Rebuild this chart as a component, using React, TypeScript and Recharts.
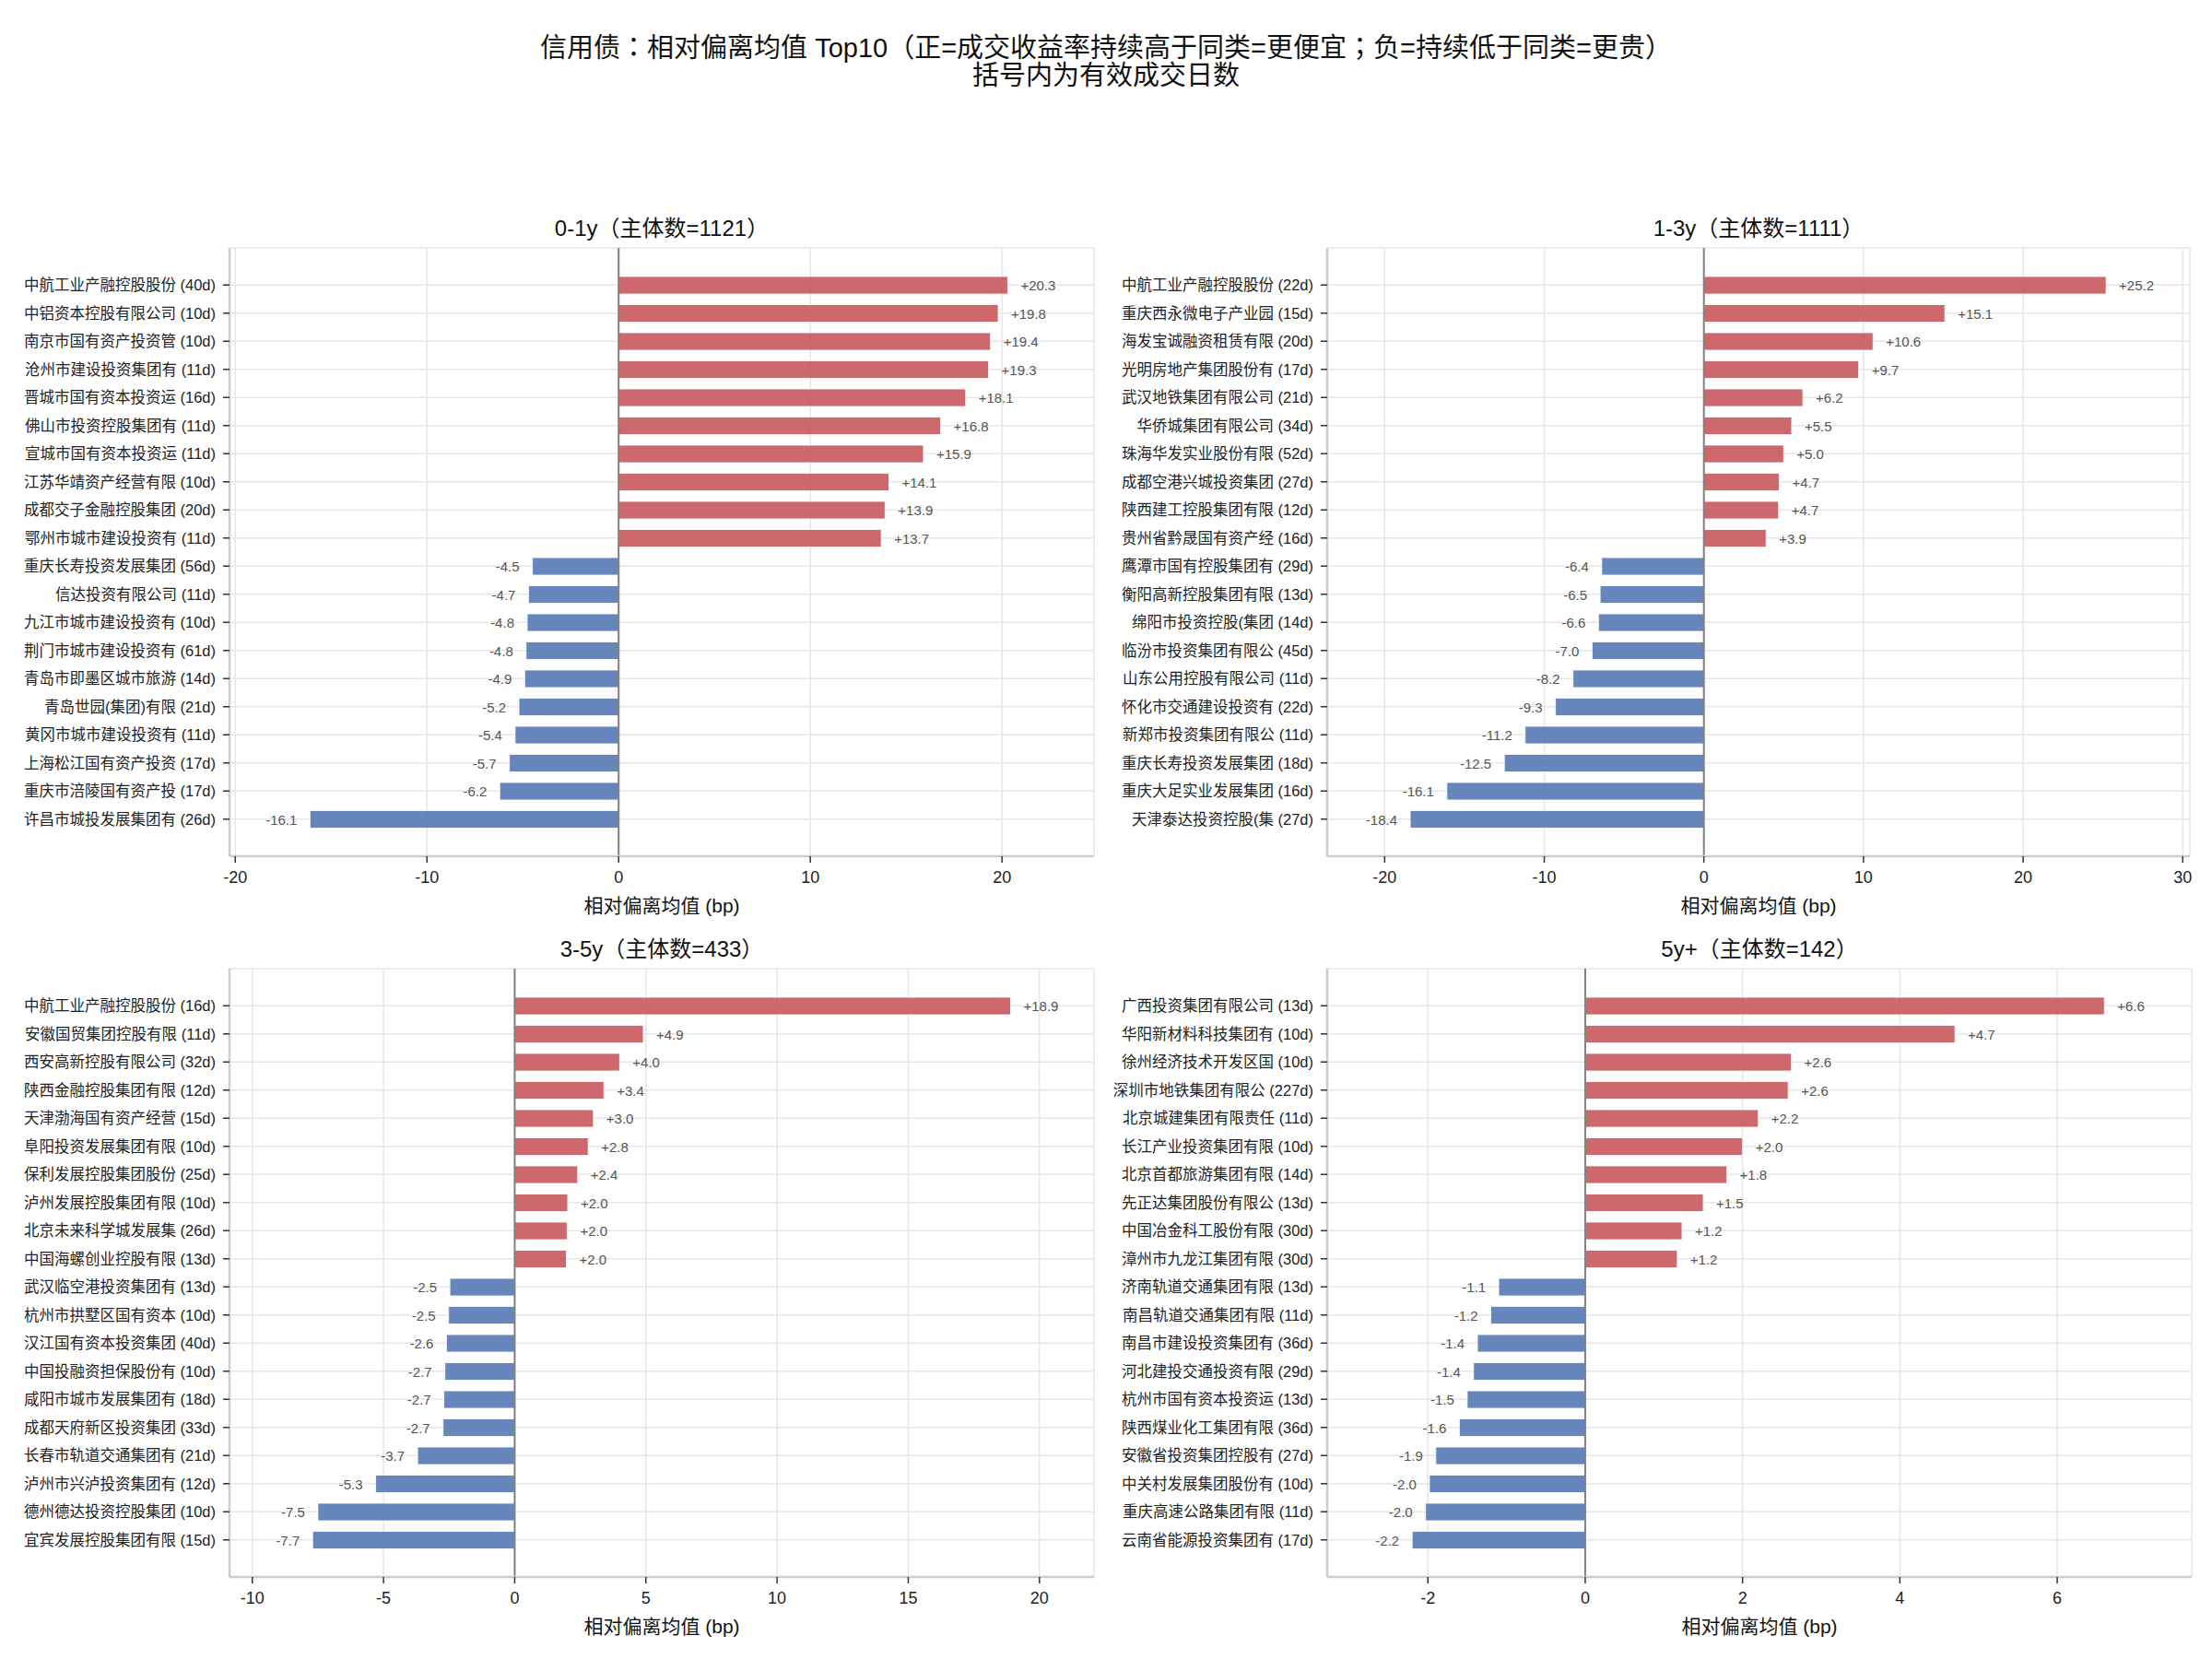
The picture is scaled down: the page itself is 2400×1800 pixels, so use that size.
import React from 'react';
import { BarChart, Bar, XAxis, YAxis, CartesianGrid, ReferenceLine, Cell, LabelList } from 'recharts';

const FONT = "'Liberation Sans', 'Noto Sans CJK SC', sans-serif";
const PUNCT_FONT = "'Noto Sans CJK TC', 'Noto Sans CJK SC', sans-serif";
const POS_COLOR = '#c44e52';
const NEG_COLOR = '#4c72b0';

const mainTitle1 = '信用债：相对偏离均值 Top10（正=成交收益率持续高于同类=更便宜；负=持续低于同类=更贵）';
const mainTitle2 = '括号内为有效成交日数';
const xLabel = '相对偏离均值 (bp)';

// 0-1y
const title01 = '0-1y（主体数=1121）';
const names01 = [
  '中航工业产融控股股份 (40d)', '中铝资本控股有限公司 (10d)', '南京市国有资产投资管 (10d)', '沧州市建设投资集团有 (11d)',
  '晋城市国有资本投资运 (16d)', '佛山市投资控股集团有 (11d)', '宣城市国有资本投资运 (11d)', '江苏华靖资产经营有限 (10d)',
  '成都交子金融控股集团 (20d)', '鄂州市城市建设投资有 (11d)', '重庆长寿投资发展集团 (56d)', '信达投资有限公司 (11d)',
  '九江市城市建设投资有 (10d)', '荆门市城市建设投资有 (61d)', '青岛市即墨区城市旅游 (14d)', '青岛世园(集团)有限 (21d)',
  '黄冈市城市建设投资有 (11d)', '上海松江国有资产投资 (17d)', '重庆市涪陵国有资产投 (17d)', '许昌市城投发展集团有 (26d)',
];
const values01 = [20.3, 19.8, 19.4, 19.3, 18.1, 16.8, 15.9, 14.1, 13.9, 13.7, -4.5, -4.7, -4.77, -4.83, -4.9, -5.2, -5.4, -5.7, -6.2, -16.1];
const domain01: [number, number] = [-20.3, 24.8];
const ticks01 = [-20, -10, 0, 10, 20];

// 1-3y
const title13 = '1-3y（主体数=1111）';
const names13 = [
  '中航工业产融控股股份 (22d)', '重庆西永微电子产业园 (15d)', '海发宝诚融资租赁有限 (20d)', '光明房地产集团股份有 (17d)',
  '武汉地铁集团有限公司 (21d)', '华侨城集团有限公司 (34d)', '珠海华发实业股份有限 (52d)', '成都空港兴城投资集团 (27d)',
  '陕西建工控股集团有限 (12d)', '贵州省黔晟国有资产经 (16d)', '鹰潭市国有控股集团有 (29d)', '衡阳高新控股集团有限 (13d)',
  '绵阳市投资控股(集团 (14d)', '临汾市投资集团有限公 (45d)', '山东公用控股有限公司 (11d)', '怀化市交通建设投资有 (22d)',
  '新郑市投资集团有限公 (11d)', '重庆长寿投资发展集团 (18d)', '重庆大足实业发展集团 (16d)', '天津泰达投资控股(集 (27d)',
];
const values13 = [25.2, 15.1, 10.6, 9.7, 6.2, 5.5, 5.0, 4.72, 4.68, 3.9, -6.4, -6.5, -6.6, -7.0, -8.2, -9.3, -11.2, -12.5, -16.1, -18.4];
const domain13: [number, number] = [-23.6, 30.45];
const ticks13 = [-20, -10, 0, 10, 20, 30];

// 3-5y
const title35 = '3-5y（主体数=433）';
const names35 = [
  '中航工业产融控股股份 (16d)', '安徽国贸集团控股有限 (11d)', '西安高新控股有限公司 (32d)', '陕西金融控股集团有限 (12d)',
  '天津渤海国有资产经营 (15d)', '阜阳投资发展集团有限 (10d)', '保利发展控股集团股份 (25d)', '泸州发展控股集团有限 (10d)',
  '北京未来科学城发展集 (26d)', '中国海螺创业控股有限 (13d)', '武汉临空港投资集团有 (13d)', '杭州市拱墅区国有资本 (10d)',
  '汉江国有资本投资集团 (40d)', '中国投融资担保股份有 (10d)', '咸阳市城市发展集团有 (18d)', '成都天府新区投资集团 (33d)',
  '长春市轨道交通集团有 (21d)', '泸州市兴泸投资集团有 (12d)', '德州德达投资控股集团 (10d)', '宜宾发展控股集团有限 (15d)',
];
const values35 = [18.9, 4.9, 4.0, 3.4, 3.0, 2.8, 2.4, 2.02, 2.0, 1.97, -2.47, -2.52, -2.6, -2.66, -2.7, -2.73, -3.7, -5.3, -7.5, -7.7];
const domain35: [number, number] = [-10.87, 22.08];
const ticks35 = [-10, -5, 0, 5, 10, 15, 20];

// 5y+
const title5p = '5y+（主体数=142）';
const names5p = [
  '广西投资集团有限公司 (13d)', '华阳新材料科技集团有 (10d)', '徐州经济技术开发区国 (10d)', '深圳市地铁集团有限公 (227d)',
  '北京城建集团有限责任 (11d)', '长江产业投资集团有限 (10d)', '北京首都旅游集团有限 (14d)', '先正达集团股份有限公 (13d)',
  '中国冶金科工股份有限 (30d)', '漳州市九龙江集团有限 (30d)', '济南轨道交通集团有限 (13d)', '南昌轨道交通集团有限 (11d)',
  '南昌市建设投资集团有 (36d)', '河北建投交通投资有限 (29d)', '杭州市国有资本投资运 (13d)', '陕西煤业化工集团有限 (36d)',
  '安徽省投资集团控股有 (27d)', '中关村发展集团股份有 (10d)', '重庆高速公路集团有限 (11d)', '云南省能源投资集团有 (17d)',
];
const values5p = [6.6, 4.7, 2.62, 2.58, 2.2, 2.0, 1.8, 1.5, 1.23, 1.17, -1.1, -1.2, -1.37, -1.42, -1.5, -1.6, -1.9, -1.98, -2.03, -2.2];
const domain5p: [number, number] = [-3.28, 7.71];
const ticks5p = [-2, 0, 2, 4, 6];

// Render text so that full-width colon / semicolon use a font that centres them
const withCenteredPunct = (s: string) =>
  s.split(/([：；])/).map((part, i) =>
    part === '：' || part === '；' ? (
      <span key={i} style={{ fontFamily: PUNCT_FONT, lineHeight: 0 }}>{part}</span>
    ) : (
      <React.Fragment key={i}>{part}</React.Fragment>
    )
  );

const renderValueLabel = (props: any) => {
  const vb = props.viewBox || {};
  const x = vb.x ?? props.x;
  const y = vb.y ?? props.y;
  const w = vb.width ?? props.width;
  const h = vb.height ?? props.height;
  const v = Number(props.value);
  if (x == null || y == null) return null;
  const right = Math.max(x, x + w);
  const left = Math.min(x, x + w);
  const cy = y + h / 2;
  const txt = v > 0 ? `+${v.toFixed(1)}` : v.toFixed(1);
  return (
    <text
      x={v >= 0 ? right + 14 : left - 14}
      y={cy}
      textAnchor={v >= 0 ? 'start' : 'end'}
      dominantBaseline="central"
      fontSize={15}
      fill="#555555"
      fontFamily={FONT}
    >
      {txt}
    </text>
  );
};

type PanelProps = {
  title: string;
  names: string[];
  values: number[];
  domain: [number, number];
  ticks: number[];
  left: number;
  plotTop: number;
  yw: number;
  mr: number;
};

function Panel({ title, names, values, domain, ticks, left, plotTop, yw, mr }: PanelProps) {
  const data = names.map((n, i) => ({ name: n, value: values[i] }));
  const chartW = 1200;
  const top = plotTop - 10;
  return (
    <>
      <div
        style={{
          position: 'absolute',
          left: left + yw,
          width: chartW - yw - mr,
          top: plotTop - 21 - 16,
          height: 32,
          lineHeight: '32px',
          textAlign: 'center',
          fontSize: 24,
          color: '#111',
          fontFamily: FONT,
          whiteSpace: 'nowrap',
        }}
      >
        {title}
      </div>
      <div style={{ position: 'absolute', left, top }}>
        <BarChart
          width={chartW}
          height={740}
          data={data}
          layout="vertical"
          margin={{ top: 10, right: mr, bottom: 0, left: 0 }}
        >
          <CartesianGrid stroke="#e6e6e6" strokeWidth={1.5} />
          <XAxis
            type="number"
            domain={domain}
            ticks={ticks}
            allowDataOverflow
            height={70}
            tickSize={7}
            tickMargin={9}
            tick={{ fontSize: 18, fill: '#222', fontFamily: FONT }}
            axisLine={{ stroke: '#cccccc', strokeWidth: 2.5 }}
            tickLine={{ stroke: '#333', strokeWidth: 1.5 }}
            label={{ value: xLabel, position: 'insideBottom', offset: 9, fontSize: 21, fill: '#111', fontFamily: FONT }}
          />
          <YAxis
            type="category"
            dataKey="name"
            width={yw}
            interval={0}
            padding={{ top: 25, bottom: 25 }}
            tickSize={7}
            tickMargin={8}
            tick={{ fontSize: 16.5, fill: '#222', fontFamily: FONT }}
            axisLine={{ stroke: '#cccccc', strokeWidth: 2.5 }}
            tickLine={{ stroke: '#333', strokeWidth: 1.5 }}
          />
          <Bar dataKey="value" barSize={19} isAnimationActive={false} fillOpacity={0.85} stroke="#ffffff" strokeWidth={0.8}>
            {data.map((d, i) => (
              <Cell key={i} fill={d.value >= 0 ? POS_COLOR : NEG_COLOR} />
            ))}
            <LabelList dataKey="value" content={renderValueLabel} />
          </Bar>
          <ReferenceLine x={0} stroke="#808080" strokeWidth={2} />
        </BarChart>
      </div>
    </>
  );
}

export default function App() {
  return (
    <div
      style={{
        position: 'absolute',
        left: 0,
        top: 0,
        width: 2400,
        height: 1800,
        background: '#ffffff',
        fontFamily: FONT,
      }}
    >
      <div
        style={{
          position: 'absolute',
          left: 0,
          top: 37,
          width: 2400,
          textAlign: 'center',
          fontSize: 29,
          lineHeight: '30px',
          color: '#111',
          whiteSpace: 'nowrap',
        }}
      >
        <div>{withCenteredPunct(mainTitle1)}</div>
        <div>{mainTitle2}</div>
      </div>
      <Panel title={title01} names={names01} values={values01} domain={domain01} ticks={ticks01} left={0} plotTop={269} yw={249} mr={13} />
      <Panel title={title13} names={names13} values={values13} domain={domain13} ticks={ticks13} left={1200} plotTop={269} yw={240} mr={24} />
      <Panel title={title35} names={names35} values={values35} domain={domain35} ticks={ticks35} left={0} plotTop={1051} yw={249} mr={13} />
      <Panel title={title5p} names={names5p} values={values5p} domain={domain5p} ticks={ticks5p} left={1200} plotTop={1051} yw={240} mr={22} />
    </div>
  );
}
